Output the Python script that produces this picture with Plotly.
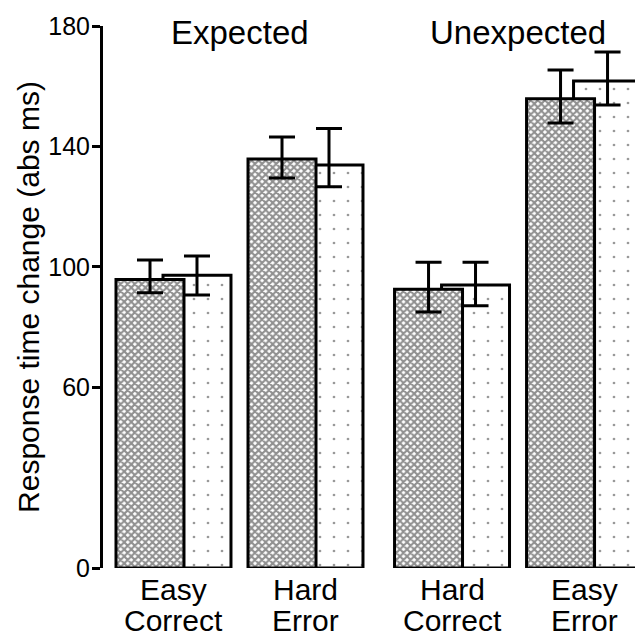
import plotly.graph_objects as go

# ---- data ----
categories = ["Easy<br>Correct", "Hard<br>Error", "Hard<br>Correct", "Easy<br>Error"]
conditions = ["Expected", "Expected", "Unexpected", "Unexpected"]

series_a = [95.8, 135.8, 92.6, 155.8]          # cross-hatched bars
series_a_err_up = [6.5, 7.3, 8.9, 9.6]
series_a_err_down = [4.4, 6.3, 7.6, 8.0]

series_b = [97.2, 133.8, 94.0, 161.7]          # dotted bars
series_b_err_up = [6.4, 12.2, 7.5, 9.7]
series_b_err_down = [6.5, 7.2, 6.9, 7.9]

y_ticks = [0, 60, 100, 140, 180]

# ---- layout helpers ----
group_gap = 0.11
centers = []
prev = None
pos = 0.0
for i, c in enumerate(conditions):
    if i > 0:
        pos += 1.0 + (group_gap if c != prev else 0.0)
    centers.append(pos)
    prev = c
offset = 0.178
bar_w = 0.515
xa = [c - offset for c in centers]
xb = [c + offset for c in centers]

FONT = "Liberation Sans, Arial, sans-serif"

fig = go.Figure()

# dotted series first so cross-hatched bars sit on top
fig.add_trace(go.Bar(
    x=xb, y=series_b, width=bar_w,
    marker=dict(color="white",
                line=dict(color="black", width=3),
                pattern=dict(shape=".", size=14, solidity=0.03,
                             fgcolor="#333333", bgcolor="white", fillmode="overlay")),
    error_y=dict(type="data", symmetric=False, array=series_b_err_up,
                 arrayminus=series_b_err_down, color="black", thickness=3, width=13),
    showlegend=False,
))
fig.add_trace(go.Bar(
    x=xa, y=series_a, width=bar_w,
    marker=dict(color="white",
                line=dict(color="black", width=3),
                pattern=dict(shape="x", size=5, solidity=0.65,
                             fgcolor="#222222", bgcolor="white", fillmode="overlay")),
    error_y=dict(type="data", symmetric=False, array=series_a_err_up,
                 arrayminus=series_a_err_down, color="black", thickness=3, width=13),
    showlegend=False,
))

# condition headers
for cond in ["Expected", "Unexpected"]:
    cs = [c for c, k in zip(centers, conditions) if k == cond]
    fig.add_annotation(x=sum(cs) / len(cs), y=178, xref="x", yref="y",
                       text=cond, showarrow=False, yanchor="middle",
                       font=dict(family=FONT, size=33, color="black"))

# category labels (two tight lines each, below the axis)
line_shifts = [-21, -52]
for c, label in zip(centers, categories):
    for line, ys in zip(label.split("<br>"), line_shifts):
        fig.add_annotation(x=c, y=0, xref="x", yref="paper", text=line,
                           showarrow=False, yanchor="middle", yshift=ys,
                           font=dict(family=FONT, size=30, color="black"))

fig.update_layout(
    width=635, height=636,
    margin=dict(l=103, r=0, t=26, b=68),
    paper_bgcolor="white", plot_bgcolor="white",
    barmode="overlay",
    font=dict(family=FONT, color="black"),
)
fig.update_xaxes(
    range=[-0.534, 3.496],
    tickvals=centers, showticklabels=False,
    showline=False, showgrid=False, zeroline=False, ticks="",
    automargin=False,
)
fig.update_yaxes(
    range=[0, 180],
    tickvals=y_ticks,
    tickfont=dict(family=FONT, size=25, color="black"),
    ticklabelstandoff=-3,
    showline=True, linecolor="black", linewidth=3,
    ticks="outside", ticklen=8, tickwidth=2.5, tickcolor="black",
    showgrid=False, zeroline=False, automargin=False,
    title=dict(text="Response time change (abs ms)",
               font=dict(family=FONT, size=30, color="black"), standoff=0),
)

fig.write_html("out.html")
